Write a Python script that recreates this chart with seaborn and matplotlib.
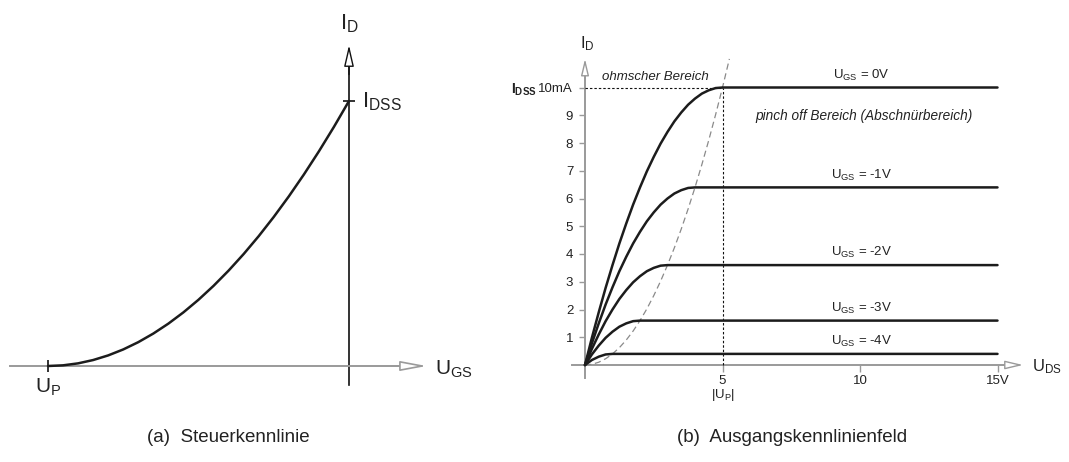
import matplotlib
matplotlib.use("Agg")
import matplotlib.pyplot as plt
import numpy as np
import pandas as pd
import seaborn as sns

# ---------------- data ----------------
IDSS = 10.0          # mA
UP = -5.0            # V
UP_ABS = 5.0

# (a) transfer characteristic
ugs_transfer = [-5, -4.75, -4.5, -4.25, -4, -3.75, -3.5, -3.25, -3, -2.75, -2.5,
                -2.25, -2, -1.75, -1.5, -1.25, -1, -0.75, -0.5, -0.25, 0]
id_transfer = [0, 0.025, 0.1, 0.225, 0.4, 0.625, 0.9, 1.225, 1.6, 2.025, 2.5,
               3.025, 3.6, 4.225, 4.9, 5.625, 6.4, 7.225, 8.1, 9.025, 10]

# (b) output characteristics
uds_0v = [0, 0.25, 0.5, 0.75, 1, 1.25, 1.5, 1.75, 2, 2.25, 2.5, 2.75, 3, 3.25, 3.5,
          3.75, 4, 4.25, 4.5, 4.75, 5, 15]
id_0v = [0, 0.98, 1.9, 2.78, 3.6, 4.38, 5.1, 5.78, 6.4, 6.98, 7.5, 7.98, 8.4, 8.78,
         9.1, 9.38, 9.6, 9.78, 9.9, 9.98, 10, 10]

uds_m1v = [0, 0.25, 0.5, 0.75, 1, 1.25, 1.5, 1.75, 2, 2.25, 2.5, 2.75, 3, 3.25, 3.5,
           3.75, 4, 15]
id_m1v = [0, 0.78, 1.5, 2.18, 2.8, 3.38, 3.9, 4.38, 4.8, 5.18, 5.5, 5.78, 6.0, 6.18,
          6.3, 6.38, 6.4, 6.4]

uds_m2v = [0, 0.25, 0.5, 0.75, 1, 1.25, 1.5, 1.75, 2, 2.25, 2.5, 2.75, 3, 15]
id_m2v = [0, 0.58, 1.1, 1.58, 2.0, 2.38, 2.7, 2.98, 3.2, 3.38, 3.5, 3.58, 3.6, 3.6]

uds_m3v = [0, 0.25, 0.5, 0.75, 1, 1.25, 1.5, 1.75, 2, 15]
id_m3v = [0, 0.38, 0.7, 0.98, 1.2, 1.38, 1.5, 1.58, 1.6, 1.6]

uds_m4v = [0, 0.25, 0.5, 0.75, 1, 15]
id_m4v = [0, 0.18, 0.3, 0.38, 0.4, 0.4]

ugs_names = ["0V", "-1V", "-2V", "-3V", "-4V"]

# pinch-off boundary (dashed parabola)
uds_locus = [0, 0.25, 0.5, 0.75, 1, 1.25, 1.5, 1.75, 2, 2.25, 2.5, 2.75, 3, 3.25,
             3.5, 3.75, 4, 4.25, 4.5, 4.75, 5, 5.25]
id_locus = [0, 0.025, 0.1, 0.225, 0.4, 0.625, 0.9, 1.225, 1.6, 2.025, 2.5, 3.025,
            3.6, 4.225, 4.9, 5.625, 6.4, 7.225, 8.1, 9.025, 10, 11.03]

y_ticks = [1, 2, 3, 4, 5, 6, 7, 8, 9, 10]
y_tick_labels = ["1", "2", "3", "4", "5", "6", "7", "8", "9", "10mA"]
x_ticks = [5, 10, 15]
x_tick_labels = ["5", "10", "15V"]

# ---------------- style ----------------
sns.set_theme(style="ticks")
plt.rcParams["font.family"] = ["Liberation Sans", "DejaVu Sans"]
plt.rcParams["mathtext.fontset"] = "custom"
plt.rcParams["mathtext.rm"] = "Liberation Sans"
plt.rcParams["mathtext.it"] = "Liberation Sans:italic"
plt.rcParams["mathtext.bf"] = "Liberation Sans:bold"

TXT = "#222222"
CURVE = "#1c1c1c"
GREY = "#9a9a9a"

W, H = 1069, 462
fig = plt.figure(figsize=(W / 100, H / 100), dpi=100)
fig.patch.set_facecolor("white")


def px_axes(x0, y0, x1, y1):
    return fig.add_axes([x0 / W, 1 - y1 / H, (x1 - x0) / W, (y1 - y0) / H])


def arrow_head(ax, tip, base, color, hl, hw, lw):
    ax.annotate("", xy=tip, xytext=base,
                arrowprops=dict(arrowstyle=f"-|>,head_length={hl},head_width={hw}",
                                color=color, fc="white", lw=lw,
                                shrinkA=0, shrinkB=0, mutation_scale=10),
                zorder=5)


# ================= (a) Steuerkennlinie =================
axa = px_axes(0, 0, 480, 420)
axa.set_facecolor("none")
axa.set_xlim(-349 / 60.2, 131 / 60.2)
axa.set_ylim(-54 / 26.5, 366 / 26.5)

for s in ["top", "right"]:
    axa.spines[s].set_visible(False)
axa.spines["left"].set_position(("data", 0))
axa.spines["bottom"].set_position(("data", 0))
axa.spines["left"].set_bounds(-0.72, 11.6)
axa.spines["bottom"].set_bounds(-5.63, 1.0)
axa.spines["left"].set_color("#111111")
axa.spines["left"].set_linewidth(1.2)
axa.spines["bottom"].set_color(GREY)
axa.spines["bottom"].set_linewidth(1.4)
axa.spines["left"].set_zorder(1)
axa.spines["bottom"].set_zorder(1)

axa.set_xticks([UP], [""])
axa.set_yticks([IDSS], [""])
axa.tick_params(axis="x", bottom=True, direction="inout", length=9, width=1.2, color="#111111")
axa.tick_params(axis="y", left=True, direction="inout", length=9, width=1.2, color="#111111")

sns.lineplot(x=ugs_transfer, y=id_transfer, ax=axa, color=CURVE, lw=1.8,
             sort=False, estimator=None, zorder=3)

arrow_head(axa, (0, 12.11), (0, 11.0), "#111111", 1.3, 0.3, 1.0)
arrow_head(axa, (1.29, 0), (0.7, 0), GREY, 1.6, 0.3, 1.2)

axa.text(-0.15, 12.9, r"$\mathrm{I_D}$", fontsize=16, color=TXT, ha="left", va="center")
axa.text(0.216, 9.96, r"$\mathrm{I_{DSS}}$", fontsize=16, color=TXT, ha="left", va="center")
axa.text(UP, -0.8, r"$\mathrm{U_P}$", fontsize=15, color=TXT, ha="center", va="center")
axa.text(1.43, -0.11, r"$\mathrm{U_{GS}}$", fontsize=15, color=TXT, ha="left", va="center")
axa.set_xlabel("")
axa.set_ylabel("")

# ================= (b) Ausgangskennlinienfeld =================
axb = px_axes(490, 0, 1069, 420)
axb.set_facecolor("none")
SX, SY = 27.5, 27.75
axb.set_xlim(-95 / SX, 484 / SX)
axb.set_ylim(-55 / SY, 365 / SY)

for s in ["top", "right"]:
    axb.spines[s].set_visible(False)
axb.spines["left"].set_position(("data", 0))
axb.spines["bottom"].set_position(("data", 0))
axb.spines["left"].set_bounds(-0.47, 10.7)
axb.spines["bottom"].set_bounds(-0.47, 15.5)
for s in ["left", "bottom"]:
    axb.spines[s].set_color(GREY)
    axb.spines[s].set_linewidth(1.4)
    axb.spines[s].set_zorder(1)

axb.set_yticks(y_ticks, y_tick_labels)
axb.set_xticks(x_ticks, x_tick_labels)
axb.tick_params(axis="y", left=True, direction="out", length=4, width=1, color=GREY,
                pad=4.5, labelsize=9.5, labelcolor=TXT)
axb.tick_params(axis="x", bottom=True, direction="out", length=5, width=1, color=GREY,
                pad=2, labelsize=9.5, labelcolor=TXT)

curves = [(uds_0v, id_0v), (uds_m1v, id_m1v), (uds_m2v, id_m2v),
          (uds_m3v, id_m3v), (uds_m4v, id_m4v)]
frames = []
for name, (u, i) in zip(ugs_names, curves):
    frames.append(pd.DataFrame({"uds": u, "id": i, "ugs": name}))
df = pd.concat(frames, ignore_index=True)

sns.lineplot(data=df, x="uds", y="id", units="ugs", estimator=None, sort=False,
             color=CURVE, lw=1.8, ax=axb, zorder=3)

# pinch-off parabola
sns.lineplot(x=uds_locus, y=id_locus, ax=axb, color="#8a8a8a", lw=0.9, sort=False,
             estimator=None, dashes=False, zorder=2).lines[-1].set_dashes([5, 3])

# dotted guides for I_DSS and |U_P|
axb.plot([0, UP_ABS], [IDSS, IDSS], color="#111111", lw=0.8, dashes=[2.2, 1.8], zorder=2)
axb.plot([UP_ABS, UP_ABS], [0, IDSS], color="#111111", lw=0.8, dashes=[2.2, 1.8], zorder=2)

arrow_head(axb, (0, 11.03), (0, 10.3), GREY, 1.0, 0.24, 1.0)
arrow_head(axb, (15.93, 0), (15.2, 0), GREY, 1.1, 0.26, 1.0)

# labels
for name, (u, i) in zip(ugs_names, curves):
    axb.text(10.05, i[-1] + 0.44, r"$\mathrm{U_{GS}}$ = " + name, fontsize=9.5,
             color=TXT, ha="center", va="center")

axb.text(-0.18, 11.57, r"$\mathrm{I_D}$", fontsize=12, color=TXT, ha="left", va="center")
axb.text(16.25, -0.07, r"$\mathrm{U_{DS}}$", fontsize=12, color=TXT, ha="left", va="center")
axb.text(-1.75, 9.9, r"$\mathbf{I_{DSS}}$", fontsize=10, color=TXT, ha="right", va="center")
axb.text(UP_ABS, -1.08, r"$|\mathrm{U_P}|$", fontsize=9.5, color=TXT, ha="center", va="center")
axb.text(2.56, 10.38, "ohmscher Bereich", fontsize=9.5, style="italic", color=TXT,
         ha="center", va="center")
axb.text(10.15, 8.97, "pinch off Bereich (Abschnürbereich)", fontsize=9.8,
         style="italic", color=TXT, ha="center", va="center")
axb.set_xlabel("")
axb.set_ylabel("")

# captions
fig.text(228 / W, 1 - 437 / H, "(a)  Steuerkennlinie", fontsize=13.5, color=TXT,
         ha="center", va="center")
fig.text(792 / W, 1 - 437 / H, "(b)  Ausgangskennlinienfeld", fontsize=13.5, color=TXT,
         ha="center", va="center")

fig.savefig("out.png", dpi=100, facecolor="white")
